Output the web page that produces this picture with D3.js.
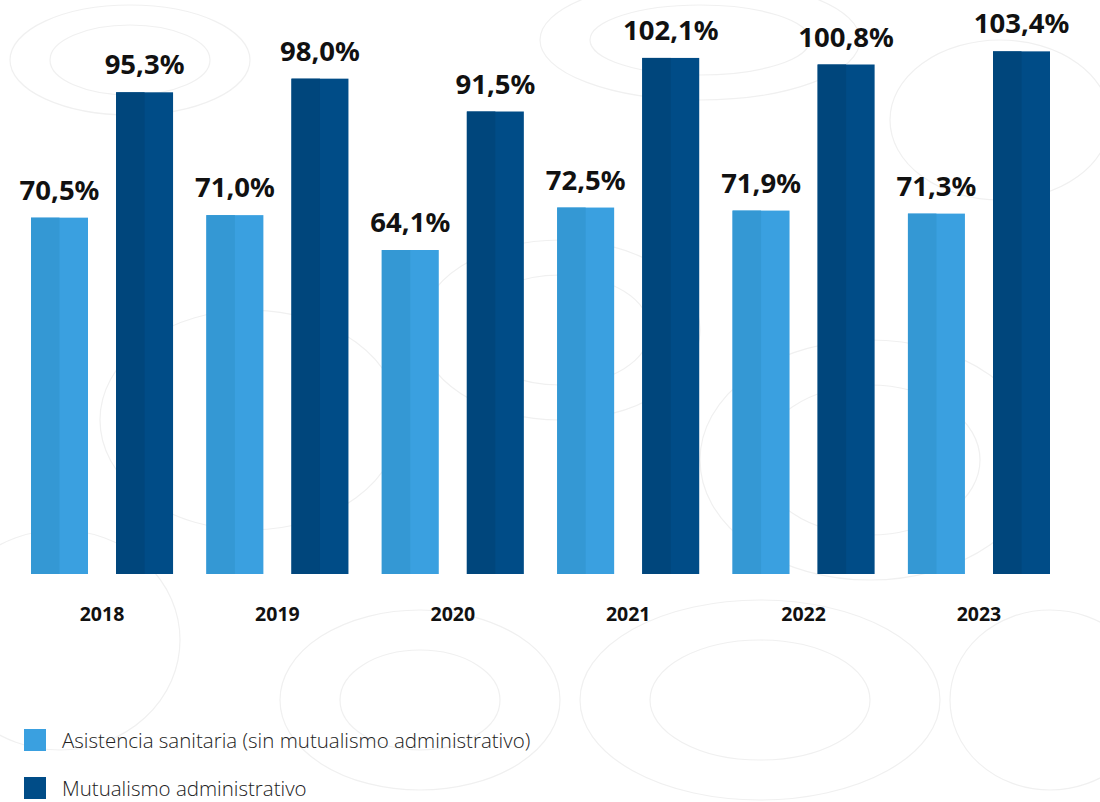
<!DOCTYPE html>
<html lang="es">
  <head>
    <meta charset="utf-8" />
    <title>Asistencia sanitaria vs mutualismo</title>
    <script src="https://d3js.org/d3.v7.min.js"></script>
    <style>
      body { margin: 0; padding: 0; background: #fff; }
      svg { display: block; }
      .value { font-family: "Noto Sans", "Open Sans", sans-serif; font-weight: 700; fill: #111; }
      .year { font-family: "Noto Sans", "Open Sans", sans-serif; font-weight: 700; fill: #111; }
      .legend text { font-family: "Open Sans", "Noto Sans", sans-serif; font-weight: 300; fill: #222; }
      .topo { fill: none; stroke: #f0f0f0; stroke-width: 1.2; }
    </style>
  </head>
  <body>
    <svg id="chart" width="1100" height="802"></svg>
    <script>
      // data
      var years = ["2018", "2019", "2020", "2021", "2022", "2023"];
      var series = ["Asistencia sanitaria (sin mutualismo administrativo)", "Mutualismo administrativo"];
      var asistencia = [70.5, 71.0, 64.1, 72.5, 71.9, 71.3];
      var mutualismo = [95.3, 98.0, 91.5, 102.1, 100.8, 103.4];

      var colors = [
        { left: "#3498d4", right: "#3aa0e0" },
        { left: "#00467c", right: "#004c87" }
      ];

      var svg = d3.select("#chart");

      // faint contour decoration in the background
      var topo = svg.append("g");
      var rings = [
        [130, 60, 120, 55], [130, 60, 80, 35], [700, 40, 160, 60], [700, 40, 110, 35],
        [1000, 120, 110, 80], [560, 330, 140, 90], [560, 330, 90, 55], [250, 420, 150, 110],
        [870, 460, 170, 120], [870, 460, 110, 75], [420, 700, 140, 90], [420, 700, 80, 50],
        [760, 700, 180, 100], [760, 700, 110, 60], [60, 640, 120, 110], [1050, 700, 100, 90]
      ];
      rings.forEach(function(r){
        topo.append("ellipse").attr("class", "topo")
          .attr("cx", r[0]).attr("cy", r[1]).attr("rx", r[2]).attr("ry", r[3]);
      });

      var baseline = 574;

      var x = d3.scaleBand()
        .domain(years)
        .range([31, 1050])
        .paddingInner(0.19)
        .paddingOuter(0);

      var xs = d3.scaleBand()
        .domain([0, 1])
        .range([0, x.bandwidth()])
        .paddingInner(0.33)
        .paddingOuter(0);

      var y = d3.scaleLinear()
        .domain([0, 110])
        .range([baseline, baseline - 556]);

      var rows = years.map(function(yr, i){
        return { year: yr, values: [asistencia[i], mutualismo[i]] };
      });

      var groups = svg.append("g").selectAll("g")
        .data(rows)
        .join("g")
        .attr("transform", function(d){ return "translate(" + x(d.year) + ",0)"; });

      var bars = groups.selectAll("g.bar")
        .data(function(d){ return d.values.map(function(v, k){ return { k: k, v: v }; }); })
        .join("g")
        .attr("class", "bar");

      // right (lighter) half then left (darker) half
      bars.append("rect")
        .attr("x", function(d){ return xs(d.k); })
        .attr("y", function(d){ return y(d.v); })
        .attr("width", xs.bandwidth())
        .attr("height", function(d){ return baseline - y(d.v); })
        .attr("fill", function(d){ return colors[d.k].right; });
      bars.append("rect")
        .attr("x", function(d){ return xs(d.k); })
        .attr("y", function(d){ return y(d.v); })
        .attr("width", xs.bandwidth() / 2)
        .attr("height", function(d){ return baseline - y(d.v); })
        .attr("fill", function(d){ return colors[d.k].left; });

      bars.append("text")
        .attr("class", "value")
        .attr("x", function(d){ return xs(d.k) + xs.bandwidth() / 2; })
        .attr("y", function(d){ return y(d.v) - 18; })
        .attr("text-anchor", "middle")
        .style("font-size", "27.5px")
        .text(function(d){ return d.v.toFixed(1).replace(".", ",") + "%"; });

      // year labels
      svg.append("g").selectAll("text")
        .data(years)
        .join("text")
        .attr("class", "year")
        .attr("x", function(d){ return x(d) + x.bandwidth() / 2; })
        .attr("y", 621)
        .attr("text-anchor", "middle")
        .style("font-size", "19.5px")
        .text(function(d){ return d; });

      // legend
      var legend = svg.append("g").attr("class", "legend");
      var li = legend.selectAll("g")
        .data(series)
        .join("g")
        .attr("transform", function(d, i){ return "translate(24," + (729 + i * 48) + ")"; });
      li.append("rect")
        .attr("width", 22).attr("height", 22)
        .attr("fill", function(d, i){ return colors[i].right; });
      li.append("text")
        .attr("x", 38)
        .attr("y", 19)
        .style("font-size", "20.5px")
        .text(function(d){ return d; });
    </script>
  </body>
</html>
